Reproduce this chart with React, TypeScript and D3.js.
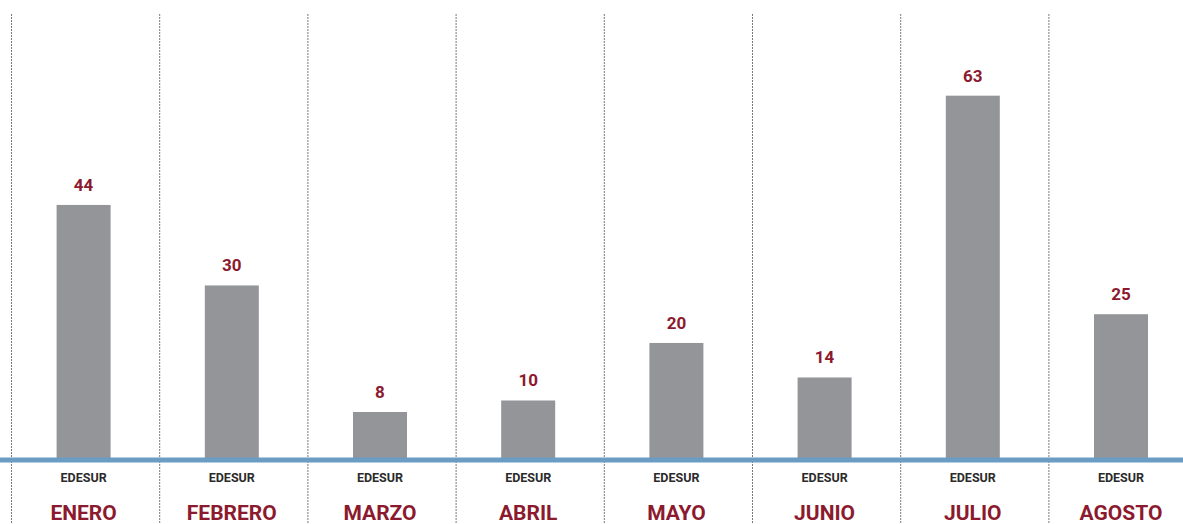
import React from "react";
import * as d3 from "d3";

const months = ["ENERO", "FEBRERO", "MARZO", "ABRIL", "MAYO", "JUNIO", "JULIO", "AGOSTO"];
const values = [44, 30, 8, 10, 20, 14, 63, 25];
const seriesLabel = "EDESUR";

const W = 1183;
const H = 524;

export default function App() {
  const x = d3.scaleBand<string>().domain(months).range([11, 11 + 148.2 * 8]).paddingInner(0).paddingOuter(0);
  const y = d3.scaleLinear().domain([0, 77.2]).range([458, 14]);
  const barW = 54;
  const red = "#8c1a2e";
  return (
    <svg width={W} height={H} style={{ position: "absolute", left: 0, top: 0, background: "#fff" }}>
      {months.map((m) => (
        <line key={"d" + m} x1={x(m)! + 0.5} x2={x(m)! + 0.5} y1={14} y2={H} stroke="#7a7a7a" strokeWidth={1} strokeDasharray="2,1" />
      ))}
      {months.map((m, i) => {
        const cx = x(m)! + x.bandwidth() / 2 - 1.5;
        return (
          <g key={m}>
            <rect x={cx - barW / 2} y={y(values[i])} width={barW} height={y(0) - y(values[i])} fill="#939598" />
            <text x={cx} y={y(values[i]) - 14} textAnchor="middle" fontFamily="Roboto, sans-serif" fontWeight={700} fontSize={17} fill={red}>
              {values[i]}
            </text>
            <text x={cx} y={482} textAnchor="middle" fontFamily="Roboto, sans-serif" fontWeight={700} fontSize={12.5} fill="#2b2b2b">
              {seriesLabel}
            </text>
            <text x={cx} y={520} textAnchor="middle" fontFamily="Roboto, sans-serif" fontWeight={700} fontSize={21} fill={red}>
              {m}
            </text>
          </g>
        );
      })}
      <line x1={0} x2={W} y1={y(0) + 2} y2={y(0) + 2} stroke="#6a9cc4" strokeWidth={5} />
    </svg>
  );
}
